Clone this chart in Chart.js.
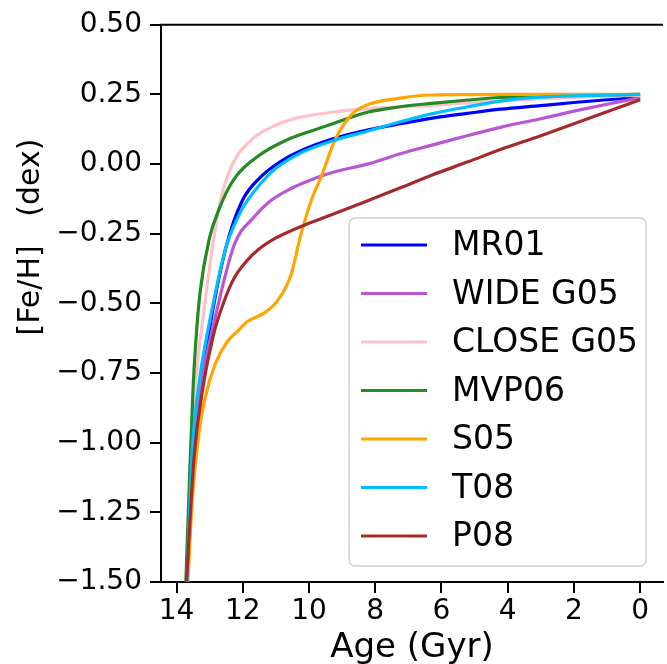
<!DOCTYPE html>
<html>
<head>
<meta charset="utf-8">
<script src="https://cdn.jsdelivr.net/npm/chart.js@4.4.1/dist/chart.umd.min.js"></script>
<style>
  html, body { margin: 0; padding: 0; background: #fff; }
  #wrap { width: 667px; height: 664px; }
</style>
</head>
<body>
<div id="wrap"><canvas id="amrChart" width="667" height="664"></canvas></div>
<script>
// age-metallicity relations
var models = ['MR01', 'WIDE G05', 'CLOSE G05', 'MVP06', 'S05', 'T08', 'P08'];
var colors = ['#0000ff', '#ba55d3', '#ffc0cb', '#228b22', '#ffa500', '#00bfff', '#a52a2a'];

var ageMR01 = [13.68, 13.45, 13.2, 12.96, 12.51, 12.01, 11.4, 10.85, 10.25, 9.3, 8.24, 7.24, 6.23, 5.23, 4.22, 3.0, 2.0, 1.0, 0];
var feMR01  = [-1.5, -1.0, -0.75, -0.56, -0.3, -0.13, -0.04, 0.01, 0.048, 0.09, 0.122, 0.145, 0.166, 0.182, 0.197, 0.21, 0.221, 0.231, 0.24];

var ageWIDE = [13.69, 13.47, 13.24, 12.85, 12.26, 11.66, 11.2, 10.5, 9.8, 9.3, 8.24, 7.24, 6.23, 5.23, 4.22, 3.0, 2.0, 1.0, 0];
var feWIDE  = [-1.5, -1.0, -0.78, -0.56, -0.29, -0.19, -0.135, -0.085, -0.05, -0.03, 0.0, 0.037, 0.07, 0.102, 0.132, 0.163, 0.19, 0.215, 0.238];

var ageCLOSE = [13.7, 13.55, 13.37, 13.21, 12.93, 12.71, 12.33, 11.71, 11.0, 10.35, 9.3, 8.3, 7.3, 6.3, 5.2, 3.0, 1.5, 0];
var feCLOSE  = [-1.5, -1.0, -0.72, -0.56, -0.31, -0.15, -0.005, 0.09, 0.14, 0.166, 0.186, 0.198, 0.205, 0.211, 0.22, 0.235, 0.242, 0.247];

var ageMVP06 = [13.72, 13.6, 13.5, 13.42, 13.29, 13.01, 12.71, 12.3, 11.51, 10.7, 9.8, 9.35, 8.24, 7.3, 6.3, 5.2, 4.22, 3.0, 0];
var feMVP06  = [-1.5, -1.1, -0.8, -0.64, -0.46, -0.267, -0.16, -0.06, 0.031, 0.085, 0.124, 0.142, 0.186, 0.205, 0.218, 0.23, 0.239, 0.245, 0.25];

var ageS05 = [13.66, 13.52, 13.32, 13.14, 12.84, 12.46, 12.16, 11.86, 11.36, 10.95, 10.55, 10.25, 9.9, 9.65, 9.2, 8.74, 8.3, 7.3, 6.3, 4.0, 0];
var feS05  = [-1.5, -1.2, -0.96, -0.84, -0.72, -0.636, -0.6, -0.565, -0.535, -0.49, -0.4, -0.255, -0.12, -0.05, 0.09, 0.175, 0.21, 0.236, 0.248, 0.25, 0.25];

var ageT08 = [13.69, 13.52, 13.3, 12.96, 12.51, 12.06, 11.46, 11.0, 10.25, 9.3, 8.24, 7.24, 6.23, 5.23, 4.22, 3.2, 2.0, 1.0, 0];
var feT08  = [-1.5, -1.02, -0.77, -0.54, -0.3, -0.17, -0.07, -0.015, 0.04, 0.083, 0.118, 0.152, 0.182, 0.205, 0.226, 0.239, 0.245, 0.248, 0.25];

var ageP08 = [13.7, 13.47, 13.2, 12.9, 12.76, 12.31, 11.9, 11.51, 11.0, 10.5, 10.0, 9.5, 8.4, 7.24, 6.3, 5.2, 4.2, 3.0, 2.0, 1.0, 0];
var feP08  = [-1.5, -1.05, -0.8, -0.62, -0.56, -0.42, -0.35, -0.305, -0.265, -0.237, -0.212, -0.19, -0.14, -0.085, -0.04, 0.008, 0.053, 0.102, 0.145, 0.188, 0.231];

var xTicks = [14, 12, 10, 8, 6, 4, 2, 0];
var yTicks = [-1.5, -1.25, -1.0, -0.75, -0.5, -0.25, 0, 0.25, 0.5];

var ages = [ageMR01, ageWIDE, ageCLOSE, ageMVP06, ageS05, ageT08, ageP08];
var fehs = [feMR01, feWIDE, feCLOSE, feMVP06, feS05, feT08, feP08];

function fmtY(v) {
    var s = Math.abs(v).toFixed(2);
    return v < 0 ? '\u2212' + s : s;
}

var datasets = models.map(function (name, i) {
    return {
        label: name,
        data: ages[i].map(function (a, j) { return { x: a, y: fehs[i][j] }; }),
        borderColor: colors[i],
        borderWidth: 3.2,
        pointRadius: 0,
        fill: false,
        cubicInterpolationMode: 'monotone',
        order: models.length - i,   // later models drawn on top
        clip: 0
    };
});

var framePlugin = {
    id: 'frame',
    afterDraw: function (chart) {
        var c = chart.ctx, a = chart.chartArea;
        c.save();
        c.strokeStyle = '#000';
        c.lineWidth = 2;
        c.beginPath();
        c.moveTo(a.left - 1, a.top);
        c.lineTo(a.right, a.top);
        c.stroke();

        c.fillStyle = '#000';
        c.textAlign = 'center';
        c.textBaseline = 'alphabetic';
        c.font = '34px "DejaVu Sans"';
        c.fillText('Age (Gyr)', (a.left + a.right) / 2, 657);

        c.save();
        c.translate(39, 237);
        c.rotate(-Math.PI / 2);
        c.font = '30px "DejaVu Sans"';
        c.fillText('[Fe/H]   (dex)', 0, 0);
        c.restore();

        // legend box
        c.beginPath();
        c.roundRect(349, 218, 297, 348, 6);
        c.fillStyle = 'rgba(255,255,255,0.8)';
        c.fill();
        c.strokeStyle = '#d0d0d0';
        c.lineWidth = 1.5;
        c.stroke();

        c.font = '33px "DejaVu Sans"';
        c.textAlign = 'left';
        models.forEach(function (name, i) {
            var y = 245 + i * 48.5;
            c.strokeStyle = colors[i];
            c.lineWidth = 3.2;
            c.beginPath();
            c.moveTo(361, y);
            c.lineTo(427, y);
            c.stroke();
            c.fillStyle = '#000';
            c.fillText(name, 452, y + 10);
        });
        c.restore();
    }
};

Chart.defaults.font.family = '"DejaVu Sans"';

var ctx = document.getElementById('amrChart').getContext('2d');
var amrChart = new Chart(ctx, {
    type: 'line',
    data: { datasets: datasets },
    options: {
        responsive: false,
        animation: false,
        layout: { padding: { top: 22, right: 4, left: 0, bottom: 0 } },
        plugins: { legend: { display: false }, tooltip: { enabled: false } },
        scales: {
            x: {
                type: 'linear',
                reverse: true,
                min: -0.69,
                max: 14.47,
                afterBuildTicks: function (s) { s.ticks = xTicks.map(function (v) { return { value: v }; }); },
                afterFit: function (s) { s.height = 82; },
                ticks: { color: '#000', font: { size: 28 }, padding: 2, maxRotation: 0, autoSkip: false,
                         callback: function (v) { return String(v); } },
                grid: { drawOnChartArea: false, color: '#000', lineWidth: 2, tickLength: 11 },
                border: { color: '#000', width: 2 }
            },
            y: {
                min: -1.5,
                max: 0.5,
                afterBuildTicks: function (s) { s.ticks = yTicks.map(function (v) { return { value: v }; }); },
                afterFit: function (s) { s.width = 161; },
                ticks: { color: '#000', font: { size: 28 }, padding: 8, autoSkip: false, callback: fmtY },
                grid: { drawOnChartArea: false, color: '#000', lineWidth: 2, tickLength: 11 },
                border: { color: '#000', width: 2 }
            }
        }
    },
    plugins: [framePlugin]
});
</script>
</body>
</html>
